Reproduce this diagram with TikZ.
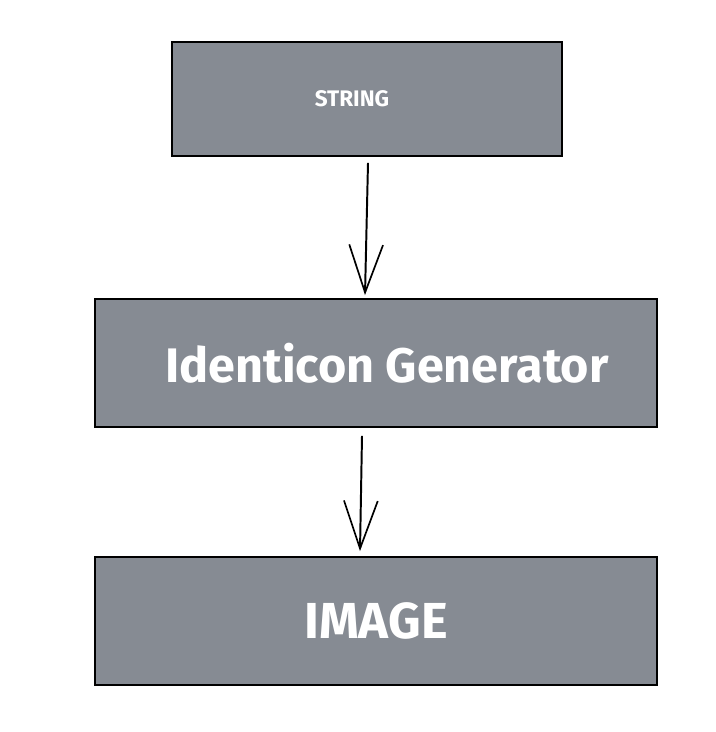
\documentclass[tikz,border=0pt]{standalone}
\usepackage{fontspec}
\setmainfont{Fira Sans}
\usetikzlibrary{arrows.meta}

\definecolor{boxgray}{HTML}{868B93}

\tikzset{
  block/.style={draw=black, line width=1.3pt, fill=boxgray, text=white, inner sep=0pt},
  arr/.style={-{Straight Barb[length=34pt,width=24pt,line width=1.2pt]}, line width=1.4pt}
}

\begin{document}
\begin{tikzpicture}
% we fix the page size
\useasboundingbox (0,0) rectangle (17.9,-18.3);

% we draw the boxes
\node[block, minimum width=9.75cm, minimum height=2.85cm, font=\fontsize{16}{18}\selectfont\bfseries] (str) at (9.175,-2.475) {STRING\hspace*{0.75cm}};
\node[block, minimum width=14.05cm, minimum height=3.2cm, font=\fontsize{34.5}{38}\selectfont\bfseries] (gen) at (9.4,-9.075) {\hspace*{0.55cm}Identicon Generator};
\node[block, minimum width=14.05cm, minimum height=3.2cm, font=\fontsize{36}{40}\selectfont\bfseries] (img) at (9.4,-15.525) {IMAGE};

% we add the arrows
\draw[arr] ([xshift=0.025cm,yshift=-0.15cm]str.south) -- ([xshift=-0.275cm,yshift=0.075cm]gen.north);
\draw[arr] ([xshift=-0.35cm,yshift=-0.2cm]gen.south) -- ([xshift=-0.4cm,yshift=0.125cm]img.north);

\end{tikzpicture}
\end{document}
